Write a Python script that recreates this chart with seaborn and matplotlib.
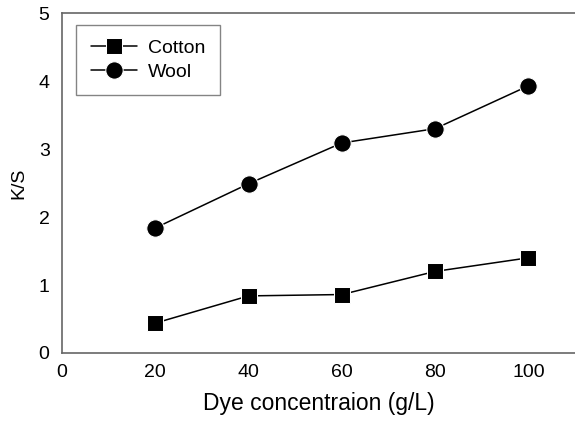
import pandas as pd
import matplotlib.pyplot as plt
import seaborn as sns

conc = [20, 40, 60, 80, 100]
cotton_ks = [0.44, 0.84, 0.86, 1.20, 1.40]
wool_ks = [1.84, 2.49, 3.09, 3.30, 3.93]

df = pd.DataFrame({
    'conc': conc * 2,
    'ks': cotton_ks + wool_ks,
    'fabric': ['Cotton'] * len(conc) + ['Wool'] * len(conc),
})

sns.set_style('white')
plt.rcParams['font.family'] = ['Liberation Sans', 'DejaVu Sans']
plt.rcParams['text.color'] = 'black'
plt.rcParams['axes.labelcolor'] = 'black'

fig = plt.figure(figsize=(5.75, 4.23), dpi=100)
ax = fig.add_axes([0.108, 0.1655, 0.892, 0.8035])

sns.lineplot(data=df[df['fabric'] == 'Cotton'], x='conc', y='ks', ax=ax,
             color='black', lw=1.1, marker='s', markersize=11, label='Cotton')
sns.lineplot(data=df[df['fabric'] == 'Wool'], x='conc', y='ks', ax=ax,
             color='black', lw=1.1, marker='o', markersize=12.5, label='Wool')

ax.set_xlim(0, 110)
ax.set_ylim(0, 5)
ax.set_xticks([0, 20, 40, 60, 80, 100])
ax.set_yticks([0, 1, 2, 3, 4, 5])
ax.set_xlabel('Dye concentraion (g/L)', fontsize=16.5, labelpad=8)
ax.set_ylabel('K/S', fontsize=14, labelpad=8)
ax.tick_params(direction='in', length=4, width=1, color='#666666',
               labelcolor='black', labelsize=14, pad=8)
ax.tick_params(axis='y', pad=9)
for side in ['left', 'bottom', 'top']:
    ax.spines[side].set_color('#666666')
    ax.spines[side].set_linewidth(1.2)
ax.spines['right'].set_visible(False)

leg = ax.legend(loc='upper left', bbox_to_anchor=(0.027, 0.965), fontsize=14,
                frameon=True, fancybox=False, edgecolor='#666666',
                handlelength=2.4, handletextpad=0.55, borderpad=0.75,
                labelspacing=0.3, borderaxespad=0, markerscale=1.0)
leg.get_frame().set_linewidth(1)

fig.savefig('out.png', dpi=100)
